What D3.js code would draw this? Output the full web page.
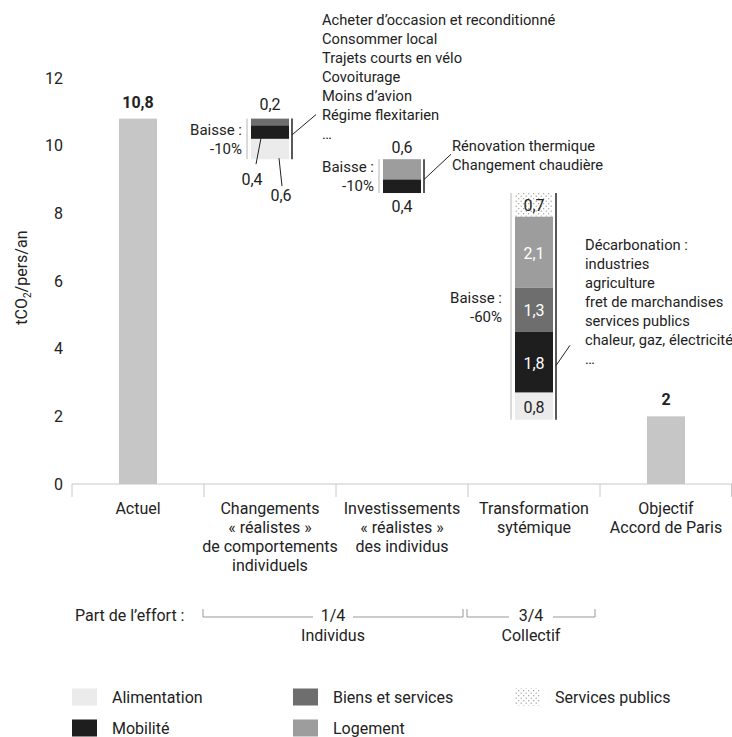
<!DOCTYPE html>
<html lang="fr">
<head>
    <meta charset="UTF-8">
    <title>Empreinte carbone</title>
    <script src="https://cdnjs.cloudflare.com/ajax/libs/d3/7.8.5/d3.min.js"></script>
    <style>
        body { margin: 0; background: #fff; }
        text { font-family: "Roboto", "Liberation Sans", sans-serif; fill: #222; }
    </style>
</head>
<body>
<div id="chart"></div>
<script>
    // categories on the x axis
    let categories = ['Actuel', 'Changements', 'Investissements', 'Transformation', 'Objectif'];
    let categoryLines = [
        ['Actuel'],
        ['Changements', '« réalistes »', 'de comportements', 'individuels'],
        ['Investissements', '« réalistes »', 'des individus'],
        ['Transformation', 'sytémique'],
        ['Objectif', 'Accord de Paris']
    ];
    // full bars
    let totals = [{cat: 'Actuel', value: 10.8}, {cat: 'Objectif', value: 2}];
    // falling steps, segments listed from top to bottom
    let sectors = ['Alimentation', 'Mobilité', 'Biens et services', 'Logement', 'Services publics'];
    let step1 = [{sector: 'Biens et services', value: 0.2}, {sector: 'Mobilité', value: 0.4}, {sector: 'Alimentation', value: 0.6}];
    let step2 = [{sector: 'Logement', value: 0.6}, {sector: 'Mobilité', value: 0.4}];
    let step3 = [{sector: 'Services publics', value: 0.7}, {sector: 'Logement', value: 2.1}, {sector: 'Biens et services', value: 1.3},
        {sector: 'Mobilité', value: 1.8}, {sector: 'Alimentation', value: 0.8}];
    let stepCats = ['Changements', 'Investissements', 'Transformation'];
    let drops = ['-10%', '-10%', '-60%'];
    let notes1 = ['Acheter d’occasion et reconditionné', 'Consommer local', 'Trajets courts en vélo', 'Covoiturage',
        'Moins d’avion', 'Régime flexitarien', '…'];
    let notes2 = ['Rénovation thermique', 'Changement chaudière'];
    let notes3 = ['Décarbonation :', 'industries', 'agriculture', 'fret de marchandises', 'services publics',
        'chaleur, gaz, électricité', '…'];
    let yTicks = [0, 2, 4, 6, 8, 10, 12];
    let efforts = [{label: '1/4', sub: 'Individus', from: 'Changements', to: 'Investissements'},
        {label: '3/4', sub: 'Collectif', from: 'Transformation', to: 'Transformation'}];
    let legendRows = [['Alimentation', 'Biens et services', 'Services publics'], ['Mobilité', 'Logement']];

    let W = 732, H = 737;
    let fmt = d3.formatLocale({decimal: ',', thousands: ' ', grouping: [3], currency: ['', '€']}).format('.1f');
    let fmtV = function (v) { return v % 1 === 0 ? String(v) : fmt(v); };

    let svg = d3.select('#chart').append('svg')
        .attr('width', W).attr('height', H);

    // dotted pattern for services publics
    let pat = svg.append('defs').append('pattern')
        .attr('id', 'dots').attr('patternUnits', 'userSpaceOnUse')
        .attr('width', 5).attr('height', 5);
    pat.append('rect').attr('width', 5).attr('height', 5).attr('fill', '#fff');
    pat.append('circle').attr('cx', 1.2).attr('cy', 1.2).attr('r', 0.6).attr('fill', '#8a8a8a');
    pat.append('circle').attr('cx', 3.7).attr('cy', 3.7).attr('r', 0.6).attr('fill', '#8a8a8a');

    let color = d3.scaleOrdinal()
        .domain(sectors)
        .range(['#ebebeb', '#1e1e1e', '#6e6e6e', '#9d9d9d', 'url(#dots)']);
    let labelColor = {'Alimentation': '#222', 'Mobilité': '#fff', 'Biens et services': '#fff', 'Logement': '#fff', 'Services publics': '#222'};

    let x = d3.scaleBand().domain(categories).range([72, 732]);
    let y = d3.scaleLinear().domain([0, 12]).range([484, 78]);
    let bw = 38;
    let cx = function (c) { return x(c) + x.bandwidth() / 2; };

    // y axis labels
    svg.append('g')
        .attr('transform', 'translate(63,0)')
        .call(d3.axisLeft(y).tickValues(yTicks).tickSize(0).tickPadding(0).tickFormat(d3.format('d')))
        .call(function (g) { g.select('.domain').remove(); })
        .selectAll('text')
        .style('font-size', '16px')
        .attr('fill', '#222');

    let yt = svg.append('text')
        .attr('transform', 'translate(27,' + y(6.1) + ') rotate(-90)')
        .attr('text-anchor', 'middle')
        .style('font-size', '16px');
    yt.append('tspan').text('tCO');
    yt.append('tspan').text('2').style('font-size', '10px').attr('dy', 4);
    yt.append('tspan').text('/pers/an').attr('dy', -4);

    // x axis line and separators
    svg.append('line')
        .attr('x1', 72).attr('x2', 732).attr('y1', y(0)).attr('y2', y(0))
        .attr('stroke', '#c8c8c8').attr('stroke-width', 1);
    svg.append('g').selectAll('line')
        .data(categories.concat(['end']))
        .enter().append('line')
        .attr('x1', function (d) { return d === 'end' ? 731.5 : x(d); })
        .attr('x2', function (d) { return d === 'end' ? 731.5 : x(d); })
        .attr('y1', y(0)).attr('y2', y(0) + 13)
        .attr('stroke', '#c8c8c8');

    // category labels
    svg.append('g').selectAll('text')
        .data(categories)
        .enter().append('text')
        .attr('text-anchor', 'middle')
        .style('font-size', '16px')
        .each(function (d, i) {
            let t = d3.select(this);
            categoryLines[i].forEach(function (line, j) {
                t.append('tspan').attr('x', cx(d)).attr('y', 514 + j * 19).text(line);
            });
        });

    // full bars
    svg.append('g').selectAll('rect')
        .data(totals)
        .enter().append('rect')
        .attr('x', function (d) { return cx(d.cat) - bw / 2; })
        .attr('y', function (d) { return y(d.value); })
        .attr('width', bw)
        .attr('height', function (d) { return y(0) - y(d.value); })
        .attr('fill', '#c6c6c6');
    svg.append('g').selectAll('text')
        .data(totals)
        .enter().append('text')
        .attr('x', function (d) { return cx(d.cat); })
        .attr('y', function (d) { return y(d.value) - 11; })
        .attr('text-anchor', 'middle')
        .style('font-size', '16px')
        .style('font-weight', 'bold')
        .text(function (d) { return fmtV(d.value); });

    // waterfall steps
    let steps = [step1, step2, step3];
    let dropGap = [9, 9, 13];
    let level = totals[0].value;
    steps.forEach(function (segs, i) {
        let c = stepCats[i], mid = cx(c);
        let top = level;
        let acc = top;
        segs.forEach(function (s) {
            s.y0 = acc;
            acc -= s.value;
            s.y1 = acc;
        });
        level = acc;
        let g = svg.append('g');
        g.selectAll('rect')
            .data(segs)
            .enter().append('rect')
            .attr('x', mid - bw / 2)
            .attr('y', function (d) { return y(d.y0); })
            .attr('width', bw)
            .attr('height', function (d) { return y(d.y1) - y(d.y0); })
            .attr('fill', function (d) { return color(d.sector); });
        // side rules
        g.append('line')
            .attr('x1', mid - bw / 2 - 4).attr('x2', mid - bw / 2 - 4)
            .attr('y1', y(top)).attr('y2', y(acc))
            .attr('stroke', '#b5b5b5').attr('stroke-width', 1);
        g.append('line')
            .attr('x1', mid + bw / 2 + 3).attr('x2', mid + bw / 2 + 3)
            .attr('y1', y(top)).attr('y2', y(acc))
            .attr('stroke', '#222').attr('stroke-width', 1.5);
        // drop label
        let ym = (y(top) + y(acc)) / 2;
        g.append('text')
            .attr('x', mid - bw / 2 - dropGap[i]).attr('y', ym - 9).attr('dy', '0.35em')
            .attr('text-anchor', 'end').style('font-size', '15px')
            .text('Baisse :');
        g.append('text')
            .attr('x', mid - bw / 2 - dropGap[i]).attr('y', ym + 10).attr('dy', '0.35em')
            .attr('text-anchor', 'end').style('font-size', '15px')
            .text(drops[i]);
    });

    function leader(x1, y1, x2, y2) {
        svg.append('line')
            .attr('x1', x1).attr('y1', y1).attr('x2', x2).attr('y2', y2)
            .attr('stroke', '#222').attr('stroke-width', 1);
    }

    function valueText(px, py, txt, fill) {
        svg.append('text')
            .attr('x', px).attr('y', py).attr('dy', '0.35em')
            .attr('text-anchor', 'middle').style('font-size', '16px')
            .style('fill', fill || '#222')
            .text(txt);
    }

    function notes(lines, px, pyLast) {
        let t = svg.append('text').style('font-size', '14.7px');
        lines.forEach(function (line, j) {
            t.append('tspan')
                .attr('x', px)
                .attr('y', pyLast - (lines.length - 1 - j) * 19)
                .attr('dy', '0.35em')
                .text(line);
        });
    }

    // step 1 labels
    let m1 = cx(stepCats[0]);
    valueText(m1, y(step1[0].y0) - 14, fmtV(step1[0].value));
    valueText(m1 - 18, y(step1[2].y1) + 20, fmtV(step1[1].value));
    valueText(m1 + 11, y(step1[2].y1) + 36, fmtV(step1[2].value));
    leader(m1 - 9, y((step1[1].y0 + step1[1].y1) / 2) + 6, m1 - 14, y(step1[2].y1) + 5);
    leader(m1 + 9, y(step1[2].y1) - 1, m1 + 12, y(step1[2].y1) + 27);
    leader(m1 + bw / 2 + 3, y(step1[1].y1) - 4, m1 + 46, y(step1[0].y0) - 4);
    notes(notes1, m1 + 52, y(step1[0].y0) + 15);

    // step 2 labels
    let m2 = cx(stepCats[1]);
    valueText(m2, y(step2[0].y0) - 12, fmtV(step2[0].value));
    valueText(m2, y(step2[1].y1) + 13, fmtV(step2[1].value));
    leader(m2 + bw / 2 + 3, y(step2[1].y0) + 0, m2 + 49, y(step2[0].y0) - 5);
    notes(notes2, m2 + 50, y(step2[0].y0) + 6);

    // step 3 labels inside the stack
    let m3 = cx(stepCats[2]);
    step3.forEach(function (s) {
        valueText(m3, (y(s.y0) + y(s.y1)) / 2 + 1, fmtV(s.value), labelColor[s.sector]);
    });
    leader(m3 + bw / 2 + 3, y(step3[3].y0 - 1.0), m3 + 36, y(step3[3].y0 - 0.4));
    notes(notes3, m3 + 51, y(step3[3].y0 - 0.8));

    // part de l'effort
    let ey = 617;
    svg.append('text')
        .attr('x', 75).attr('y', 615).attr('dy', '0.35em')
        .style('font-size', '16px')
        .text('Part de l’effort :');
    efforts.forEach(function (e, i) {
        let x0 = x(e.from) - 1, x1 = x(e.to) + x.bandwidth() - 5;
        let mid = (x0 + x1) / 2;
        let half = i === 0 ? 20 : 22;
        let g = svg.append('g').attr('stroke', '#999').attr('fill', 'none');
        g.append('path').attr('d', 'M' + x0 + ',' + (ey - 8) + 'V' + ey + 'H' + (mid - half));
        g.append('path').attr('d', 'M' + (mid + half) + ',' + ey + 'H' + x1 + 'V' + (ey - 8));
        valueText(mid, 615, e.label);
        valueText(mid, 635, e.sub);
    });

    // legend
    let legX = [[72, 293, 515], [72, 293]];
    legendRows.forEach(function (row, r) {
        let ly = 697 + r * 31;
        let lg = svg.append('g').selectAll('g')
            .data(row)
            .enter().append('g')
            .attr('transform', function (d, i) { return 'translate(' + legX[r][i] + ',' + ly + ')'; });
        lg.append('rect')
            .attr('x', 0).attr('y', -8.5).attr('width', 25).attr('height', 17)
            .attr('fill', function (d) { return color(d); });
        lg.append('text')
            .attr('x', 40).attr('dy', '0.35em')
            .style('font-size', '16px')
            .text(function (d) { return d; });
    });
</script>
</body>
</html>
